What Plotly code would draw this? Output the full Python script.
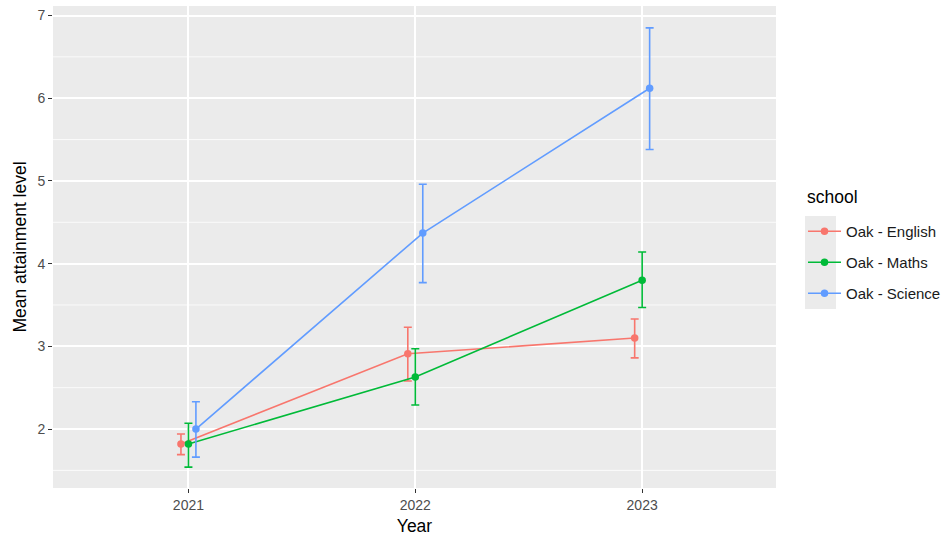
import plotly.graph_objects as go

# Mean attainment per subject and year, with error-bar bounds
years = [2021, 2022, 2023]
subjects = ["Oak - English", "Oak - Maths", "Oak - Science"]
colors = ["#F8766D", "#00BA38", "#619CFF"]

english_mean = [1.82, 2.91, 3.10]
english_low = [1.69, 2.58, 2.86]
english_high = [1.94, 3.23, 3.33]

maths_mean = [1.82, 2.63, 3.80]
maths_low = [1.54, 2.29, 3.47]
maths_high = [2.07, 2.97, 4.14]

science_mean = [2.00, 4.37, 6.12]
science_low = [1.66, 3.77, 5.38]
science_high = [2.33, 4.96, 6.85]

means = [english_mean, maths_mean, science_mean]
lows = [english_low, maths_low, science_low]
highs = [english_high, maths_high, science_high]

dodge = 0.033  # horizontal offset between subjects at each year

# Plot-area geometry in pixels, used for placing paper-space decorations
W, H = 947, 537
L, R, T, B = 53, 171, 6, 49
PW, PH = W - L - R, H - T - B


def px_x(px):
    return (px - L) / PW


def px_y(py):
    return (H - B - py) / PH


fig = go.Figure()
for i, name in enumerate(subjects):
    off = (i - 1) * dodge
    xs = [y + off for y in years]
    m, lo, hi = means[i], lows[i], highs[i]
    fig.add_trace(go.Scatter(
        x=xs, y=m, name=name, mode="lines+markers", legendgroup=name,
        line=dict(color=colors[i], width=1.6),
        marker=dict(color=colors[i], size=7.5),
        error_y=dict(
            type="data", symmetric=False,
            array=[h - v for h, v in zip(hi, m)],
            arrayminus=[v - l for v, l in zip(m, lo)],
            color=colors[i], thickness=1.6, width=4,
        ),
    ))

# Minor grid lines at half-unit positions
for v in [1.5, 2.5, 3.5, 4.5, 5.5, 6.5]:
    fig.add_shape(type="line", xref="paper", yref="y", x0=0, x1=1, y0=v, y1=v,
                  line=dict(color="#FFFFFF", width=0.8), layer="below")

# Grey background behind the legend keys
fig.add_shape(type="rect", xref="paper", yref="paper",
              x0=px_x(805), x1=px_x(836), y0=px_y(309), y1=px_y(216),
              fillcolor="#EBEBEB", line=dict(width=0), layer="below")

# Legend title
fig.add_annotation(text="school", xref="paper", yref="paper",
                   x=px_x(805), y=px_y(197), xanchor="left", yanchor="middle",
                   showarrow=False, font=dict(size=17.5, color="#000000"))

fig.update_layout(
    width=W, height=H,
    margin=dict(l=L, r=R, t=T, b=B, autoexpand=False),
    paper_bgcolor="white", plot_bgcolor="#EBEBEB",
    font=dict(family="Liberation Sans, Arial, sans-serif", color="#000000"),
    showlegend=True,
    legend=dict(
        xref="container", yref="container",
        x=803 / W, y=1 - 215 / H, xanchor="left", yanchor="top",
        font=dict(size=15, color="#1A1A1A"),
        bgcolor="rgba(0,0,0,0)", itemwidth=33, tracegroupgap=8.5,
    ),
    xaxis=dict(
        range=[2020.403, 2023.59],
        tickvals=years, ticktext=[str(y) for y in years],
        showgrid=True, gridcolor="#FFFFFF", gridwidth=1.6,
        zeroline=False, showline=False,
        ticks="outside", ticklen=4, tickcolor="#333333", tickwidth=1.2,
        tickfont=dict(size=14, color="#4D4D4D"),
        title=dict(text="Year", font=dict(size=17.5, color="#000000"), standoff=7),
    ),
    yaxis=dict(
        range=[1.287, 7.115],
        tickvals=[2, 3, 4, 5, 6, 7],
        showgrid=True, gridcolor="#FFFFFF", gridwidth=1.6,
        zeroline=False, showline=False,
        ticks="outside", ticklen=4, tickcolor="#333333", tickwidth=1.2,
        tickfont=dict(size=14, color="#4D4D4D"),
        title=dict(text="Mean attainment level", font=dict(size=17.5, color="#000000"), standoff=6),
    ),
)

fig.write_html("out.html")
